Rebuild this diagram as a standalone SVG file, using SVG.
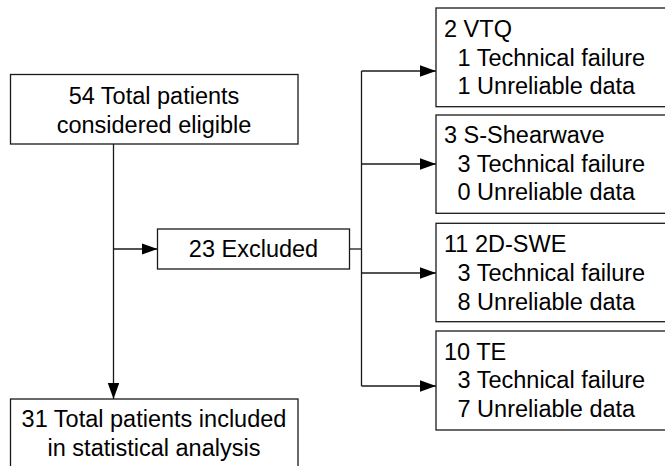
<svg xmlns="http://www.w3.org/2000/svg" width="665" height="466" viewBox="0 0 665 466">
  <style>
    .box { fill: #ffffff; stroke: #1a1a1a; stroke-width: 1.3; }
    .line { fill: none; stroke: #1a1a1a; stroke-width: 1.3; }
    text { font-family: "Liberation Sans", Arial, Helvetica, sans-serif; font-size: 23.5px; fill: #000000; }
    .c { text-anchor: middle; }
  </style>
  <defs>
    <marker id="arrow" markerUnits="userSpaceOnUse" markerWidth="17" markerHeight="12" refX="16" refY="5.75" orient="auto">
      <path d="M0,0 L16,5.75 L0,11.5 Z" fill="#000000"/>
    </marker>
  </defs>

  <rect width="665" height="466" fill="#ffffff"/>

  <!-- connectors -->
  <g id="connectors">
    <line class="line" x1="113.5" y1="144" x2="113.5" y2="399" marker-end="url(#arrow)"/>
    <line class="line" x1="113.5" y1="249" x2="157.5" y2="249" marker-end="url(#arrow)"/>
    <line class="line" x1="349.5" y1="249" x2="361.5" y2="249"/>
    <line class="line" x1="361.5" y1="71" x2="361.5" y2="386"/>
    <line class="line" x1="361.5" y1="71" x2="436" y2="71" marker-end="url(#arrow)"/>
    <line class="line" x1="361.5" y1="164" x2="436" y2="164" marker-end="url(#arrow)"/>
    <line class="line" x1="361.5" y1="273" x2="436" y2="273" marker-end="url(#arrow)"/>
    <line class="line" x1="361.5" y1="386" x2="436" y2="386" marker-end="url(#arrow)"/>
  </g>

  <!-- eligible patients -->
  <g id="eligible">
    <rect class="box" x="10.5" y="74.5" width="287.5" height="69.5"/>
    <text class="c" x="154" y="104.3">54 Total patients</text>
    <text class="c" x="154" y="132.7">considered eligible</text>
  </g>

  <!-- excluded -->
  <g id="excluded">
    <rect class="box" x="157.5" y="229" width="192" height="40"/>
    <text class="c" x="253.5" y="257">23 Excluded</text>
  </g>

  <!-- included -->
  <g id="included">
    <rect class="box" x="10.5" y="399" width="287.5" height="80"/>
    <text class="c" x="154" y="426.7">31 Total patients included</text>
    <text class="c" x="154" y="455.5">in statistical analysis</text>
  </g>

  <!-- exclusion breakdown -->
  <g id="vtq">
    <rect class="box" x="436" y="8" width="240" height="98.7"/>
    <text x="444" y="37">2 VTQ</text>
    <text x="457.5" y="66">1 Technical failure</text>
    <text x="457.5" y="94.3">1 Unreliable data</text>
  </g>

  <g id="s-shearwave">
    <rect class="box" x="436" y="115" width="240" height="98.3"/>
    <text x="444" y="143.3">3 S-Shearwave</text>
    <text x="457.5" y="171.7">3 Technical failure</text>
    <text x="457.5" y="200">0 Unreliable data</text>
  </g>

  <g id="swe-2d">
    <rect class="box" x="436" y="223.3" width="240" height="98.4"/>
    <text x="444" y="252.3">11 2D-SWE</text>
    <text x="457.5" y="281">3 Technical failure</text>
    <text x="457.5" y="309.5">8 Unreliable data</text>
  </g>

  <g id="te">
    <rect class="box" x="436" y="331" width="240" height="99"/>
    <text x="444" y="360">10 TE</text>
    <text x="457.5" y="388.3">3 Technical failure</text>
    <text x="457.5" y="416.7">7 Unreliable data</text>
  </g>
</svg>
